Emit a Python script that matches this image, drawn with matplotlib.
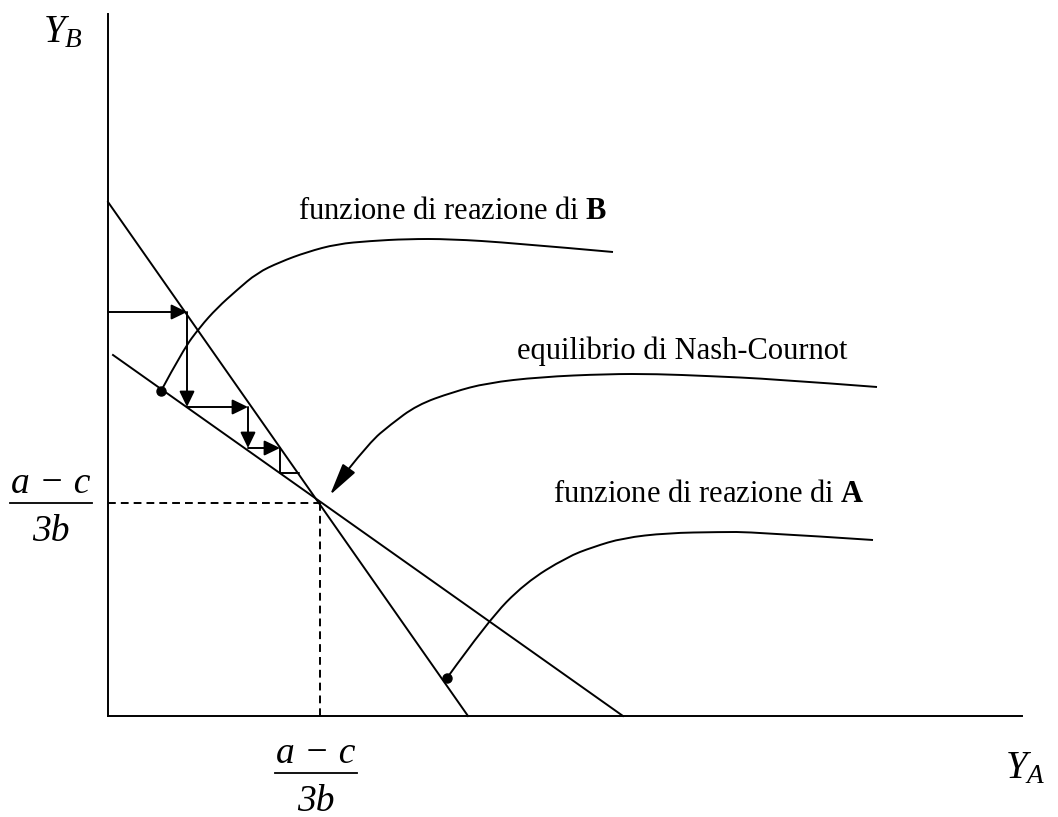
import matplotlib.pyplot as plt
from matplotlib.patches import FancyArrowPatch, PathPatch
from matplotlib.path import Path

plt.rcParams['font.family'] = 'Liberation Serif'
plt.rcParams['mathtext.fontset'] = 'custom'
plt.rcParams['mathtext.rm'] = 'Liberation Serif'
plt.rcParams['mathtext.it'] = 'Liberation Serif:italic'
plt.rcParams['mathtext.bf'] = 'Liberation Serif:bold'

# diagram coordinates are in image pixels, y axis pointing down
origin = (108, 716)
y_axis_top = 14
x_axis_end = 1022

steep_x = [108, 468]
steep_y = [202, 716]
shallow_x = [113, 623]
shallow_y = [355, 716]
equilibrium = (320, 503)

# reaction function of B (freeform curve starting at the dot)
curve_b_x = [161, 183, 200, 217, 237, 257, 280, 307, 337, 370, 407, 450, 513, 613]
curve_b_y = [391, 350, 327, 308, 290, 273, 262, 252, 244, 241, 239, 239, 243, 252]

# reaction function of A
curve_a_x = [447, 488, 525, 567, 593, 623, 667, 720, 753, 873]
curve_a_y = [678, 621, 583, 557, 547, 538, 533, 532, 532, 540]

# Nash-Cournot pointer curve (ends in the arrow tip)
nash_x = [877, 773, 707, 657, 607, 540, 487, 453, 417, 390, 370, 347, 330]
nash_y = [387, 379, 376, 374, 374, 377, 383, 392, 405, 425, 442, 471, 495]

# cobweb adjustment path: (x0, y0, x1, y1, arrow head)
cobweb = [
    (108, 312, 187, 312, True),
    (187, 312, 187, 407, True),
    (187, 407, 248, 407, True),
    (248, 407, 248, 448, True),
    (248, 448, 280, 448, True),
    (280, 448, 280, 473, False),
    (280, 473, 299, 473, False),
]

dots_x = [161, 447]
dots_y = [391, 678]


def smooth_path(xs, ys):
    # quadratic spline using the read points as control points
    pts = list(zip(xs, ys))
    verts = [pts[0]]
    codes = [Path.MOVETO]
    for i in range(1, len(pts) - 1):
        nxt = pts[i + 1] if i + 1 == len(pts) - 1 else ((pts[i][0] + pts[i + 1][0]) / 2,
                                                         (pts[i][1] + pts[i + 1][1]) / 2)
        verts += [pts[i], nxt]
        codes += [Path.CURVE3, Path.CURVE3]
    return Path(verts, codes)


lw = 1.4
fig = plt.figure(figsize=(10.58, 8.17), dpi=100)
ax = fig.add_axes([0, 0, 1, 1])
ax.set_xlim(0, 1058)
ax.set_ylim(817, 0)
ax.axis('off')

# axes of the diagram
ax.plot([origin[0], origin[0]], [y_axis_top, origin[1]], color='black', lw=lw)
ax.plot([origin[0], x_axis_end], [origin[1], origin[1]], color='black', lw=lw)

# straight lines
ax.plot(steep_x, steep_y, color='black', lw=lw)
ax.plot(shallow_x, shallow_y, color='black', lw=lw)

# dashed guides to the equilibrium
ax.plot([origin[0], equilibrium[0]], [equilibrium[1], equilibrium[1]],
        color='black', lw=lw, dashes=(4, 2.6))
ax.plot([equilibrium[0], equilibrium[0]], [equilibrium[1], origin[1]],
        color='black', lw=lw, dashes=(4, 2.6))

# curves
ax.add_patch(PathPatch(smooth_path(curve_b_x, curve_b_y), fill=False, color='black', lw=lw))
ax.add_patch(PathPatch(smooth_path(curve_a_x, curve_a_y), fill=False, color='black', lw=lw))
ax.plot(dots_x, dots_y, 'o', color='black', ms=6.5)

ax.add_patch(PathPatch(smooth_path(nash_x[:-1], nash_y[:-1]), fill=False, color='black', lw=lw))
ax.add_patch(FancyArrowPatch((nash_x[-2], nash_y[-2]), (nash_x[-1], nash_y[-1]),
                             arrowstyle='-|>,head_length=20,head_width=4.7', mutation_scale=1,
                             shrinkA=0, shrinkB=0, color='black', lw=lw))

for x0, y0, x1, y1, head in cobweb:
    style = '-|>,head_length=9.5,head_width=4.6' if head else '-'
    ax.add_patch(FancyArrowPatch((x0, y0), (x1, y1), arrowstyle=style, mutation_scale=1,
                                 shrinkA=0, shrinkB=0, color='black', lw=lw))

# labels
ax.text(43, 42, r'$Y_B$', fontsize=28, ha='left', va='baseline')
ax.text(1005, 778, r'$Y_A$', fontsize=28, ha='left', va='baseline')

ax.text(298, 219, r'funzione di reazione di $\mathbf{B}$', fontsize=22, ha='left', va='baseline')
ax.text(517, 359, 'equilibrio di Nash-Cournot', fontsize=22, ha='left', va='baseline')
ax.text(553, 502, r'funzione di reazione di $\mathbf{A}$', fontsize=22, ha='left', va='baseline')

# fractions (a-c)/3b on both axes
for cx, bar_y in [(51, 503), (316, 773)]:
    ax.text(cx, bar_y - 10, 'a \u2212 c', fontsize=27, style='italic', ha='center', va='baseline')
    ax.plot([cx - 41, cx + 41], [bar_y, bar_y], color='black', lw=1.3)
    ax.text(cx, bar_y + 38, '3b', fontsize=27, style='italic', ha='center', va='baseline')

fig.savefig('out.png', dpi=100)
